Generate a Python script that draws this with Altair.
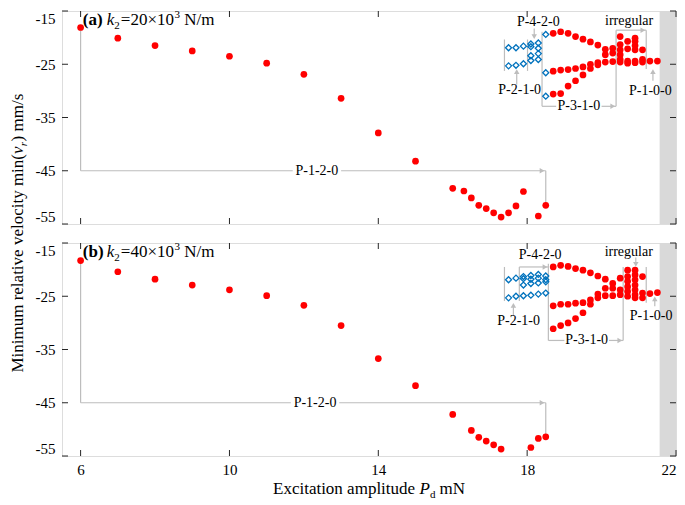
import altair as alt
import pandas as pd

# ---------------- data ----------------
x_ticks = [6, 10, 14, 18, 22]
y_ticks = [-15, -25, -35, -45, -55]
x_domain = [5.5, 22]
y_domain = [-55, -15]
band_range = [21.56, 22]

# panel (a) k2 = 20e3
a_p120_x = [6, 7, 8, 9, 10, 11, 12, 13, 14, 15, 16, 16.3, 16.5, 16.7, 16.9, 17.1, 17.3, 17.5, 17.7, 17.9, 18.3, 18.5]
a_p120_v = [-18.1, -20.1, -21.5, -22.5, -23.5, -24.8, -26.9, -31.4, -37.9, -43.2, -48.3, -48.8, -50.1, -51.5,
            -52.1, -52.9, -53.7, -52.9, -51.6, -48.9, -53.5, -51.5]
a_bif_x = [18.7] * 3 + [18.9] * 3 + [19.1] * 3 + [19.3] * 3 + [19.5] * 3 + [19.7] * 3 + [19.9] * 3 + [20.1] * 3 + \
          [20.3] * 3 + [20.5] * 6 + [20.7] * 4 + [20.9] * 6 + [21.1] * 3 + [21.3] + [21.5]
a_bif_v = [-19.2, -26.3, -30.6, -18.9, -26.1, -30.5, -19.2, -26.0, -29.1, -19.8, -25.8, -28.1, -20.3, -25.5, -27.0,
           -20.8, -25.0, -25.8, -21.4, -24.7, -25.1, -22.2, -23.2, -24.6, -22.0, -22.9, -24.5,
           -19.8, -21.3, -22.3, -23.2, -24.1, -24.6, -20.7, -22.1, -24.4, -24.8,
           -20.1, -20.7, -21.5, -22.3, -24.4, -24.7, -22.3, -24.1, -24.6, -24.4, -24.4]
a_blue_x = [17.5, 17.5, 17.7, 17.7, 17.9, 17.9, 18.1, 18.1, 18.1, 18.1, 18.3, 18.3, 18.3, 18.3, 18.5, 18.5, 18.5]
a_blue_v = [-21.9, -25.3, -21.9, -25.2, -21.6, -24.9, -21.2, -21.7, -23.4, -24.3, -21.0, -22.0, -23.0, -24.1,
            -19.4, -26.6, -31.0]

# panel (b) k2 = 40e3
b_p120_x = [6, 7, 8, 9, 10, 11, 12, 13, 14, 15, 16, 16.5, 16.7, 16.9, 17.1, 17.3, 18.1, 18.3, 18.5]
b_p120_v = [-18.3, -20.4, -21.8, -22.9, -23.8, -24.9, -26.7, -30.5, -36.7, -41.8, -47.2, -50.2, -51.5, -52.2,
            -52.9, -53.7, -53.4, -51.7, -51.4]
b_bif_x = [18.7] * 3 + [18.9] * 3 + [19.1] * 3 + [19.3] * 3 + [19.5] * 3 + [19.7] * 3 + [19.9] * 3 + [20.1] * 3 + \
          [20.3] * 3 + [20.5] * 3 + [20.7] * 6 + [20.9] * 7 + [21.1] * 3 + [21.3] + [21.5]
b_bif_v = [-19.5, -26.8, -31.1, -19.2, -26.5, -30.5, -19.4, -26.5, -30.0, -19.8, -26.3, -29.2, -20.1, -26.2, -28.1,
           -20.6, -25.7, -26.5, -21.2, -25.3, -24.6, -21.8, -23.5, -24.9, -22.6, -23.5, -24.9, -21.6, -23.8, -24.7,
           -20.1, -21.3, -22.2, -23.2, -24.1, -25.0,
           -20.1, -21.0, -21.9, -22.9, -23.8, -24.7, -25.3, -21.3, -24.4, -25.3, -24.5, -24.3]
b_blue_x = [17.5, 17.5, 17.7, 17.7] + [17.9] * 4 + [18.1] * 4 + [18.3] * 4 + [18.5] * 4
b_blue_v = [-21.9, -25.3, -21.6, -25.0, -21.3, -21.7, -22.9, -24.9, -21.1, -21.8, -22.6, -24.8,
            -20.9, -21.6, -22.5, -24.6, -21.2, -21.9, -22.3, -24.4]

# annotation guide lines (data units): x1, v1, x2, v2
a_segs = [(6, -18.6, 6, -45), (6, -45, 11.7, -45), (13.0, -45, 18.5, -45), (18.5, -45, 18.5, -51.5),
          (17.39, -20.35, 17.39, -26.25), (18.01, -20.35, 18.01, -26.25), (18.4, -18.9, 18.4, -32.9),
          (18.4, -32.9, 18.78, -32.9), (20.0, -32.9, 20.39, -32.9), (20.39, -18.6, 20.39, -32.9),
          (20.39, -18.6, 21.2, -18.6), (21.2, -18.6, 21.2, -25.9),
          (18.19, -18.3, 18.19, -19.9), (17.72, -28.8, 17.72, -26.3), (21.38, -28.1, 21.38, -26.3)]
a_arrows = [(18.4, -45, "triangle-right"), (20.3, -32.9, "triangle-right"), (21.11, -18.6, "triangle-right"),
            (18.19, -19.8, "triangle-down"), (17.72, -26.4, "triangle-up"), (21.38, -26.4, "triangle-up")]
a_labels = [("P-1-2-0", 12.35, -45), ("P-4-2-0", 18.3, -17.0), ("P-2-1-0", 17.8, -29.9),
            ("P-3-1-0", 19.39, -32.9), ("irregular", 20.74, -16.9), ("P-1-0-0", 21.31, -30.1)]

b_segs = [(6, -18.8, 6, -45), (6, -45, 11.65, -45), (12.95, -45, 18.5, -45), (18.5, -45, 18.5, -51.4),
          (17.39, -19.5, 17.39, -25.9), (17.79, -19.5, 17.79, -25.9), (17.79, -19.5, 18.57, -19.5),
          (18.57, -18.9, 18.57, -33.3), (18.57, -33.3, 19.0, -33.3), (20.2, -33.3, 20.58, -33.3),
          (20.58, -19.5, 20.58, -33.3), (21.2, -19.5, 21.2, -26.2),
          (20.92, -17.7, 20.92, -19.1), (17.63, -28.7, 17.63, -26.6), (21.43, -26.9, 21.43, -25.4)]
b_arrows = [(18.4, -45, "triangle-right"), (18.48, -19.5, "triangle-right"), (20.49, -33.3, "triangle-right"),
            (20.92, -19.0, "triangle-down"), (17.63, -26.7, "triangle-up"), (21.43, -25.5, "triangle-up")]
b_labels = [("P-1-2-0", 12.3, -45), ("P-4-2-0", 18.35, -17.3), ("P-2-1-0", 17.77, -29.7),
            ("P-3-1-0", 19.6, -33.3), ("irregular", 20.73, -16.7), ("P-1-0-0", 21.33, -28.8)]

panel_tag_pos = (6.06, -17.7)

# ---------------- styling ----------------
W, H = 614, 213
GAP = 19
FONT = "Liberation Serif"
GREY = "#BDBDBD"
FRAME = "#262626"

xs = alt.Scale(domain=x_domain, nice=False, zero=False)
ys = alt.Scale(domain=y_domain, nice=False, zero=False)
yaxis = alt.Axis(values=y_ticks, ticks=False, domain=False, grid=False, title=None, labelFlush=True,
                 labelPadding=7, labelFontSize=15, labelFont=FONT, labelColor="black",
                 labelExpr="datum.value < 0 ? '-' + abs(datum.value) : '' + datum.value")


def xaxis(show):
    if show:
        return alt.Axis(values=x_ticks, ticks=False, domain=False, grid=False, title=None, labelFlush=True,
                        labelPadding=6, labelFontSize=15, labelFont=FONT, labelColor="black")
    return alt.Axis(labels=False, ticks=False, domain=False, grid=False, title=None)


def one():
    return pd.DataFrame({"a": [0]})


def make_panel(tag, kval, p120_x, p120_v, bif_x, bif_v, blue_x, blue_v, segs, arrows, labels, bottom):
    XA = xaxis(bottom)

    def X(f):
        return alt.X(f, type="quantitative", scale=xs, axis=XA)

    def Y(f):
        return alt.Y(f, type="quantitative", scale=ys, axis=yaxis)

    band_df = pd.DataFrame({"x": [band_range[0]], "x2": [band_range[1]],
                            "y": [y_domain[1]], "y2": [y_domain[0]]})
    band = alt.Chart(band_df).mark_rect(color="#D9D9D9").encode(x=X("x"), x2="x2", y=Y("y"), y2="y2")

    seg_df = pd.DataFrame(segs, columns=["x1", "v1", "x2", "v2"])
    seg = alt.Chart(seg_df).mark_rule(color=GREY, strokeWidth=1.2).encode(
        x=X("x1"), x2="x2", y=Y("v1"), y2="v2")

    arr_df = pd.DataFrame(arrows, columns=["x", "v", "s"])
    arr = alt.Chart(arr_df).mark_point(filled=True, color=GREY, opacity=1, size=30).encode(
        x=X("x"), y=Y("v"), shape=alt.Shape("s:N", scale=None, legend=None))

    blue_df = pd.DataFrame({"x": blue_x, "v": blue_v})
    blue = alt.Chart(blue_df).mark_point(shape="diamond", filled=False, color="#0072BD", strokeWidth=1.3,
                                         size=36, opacity=1).encode(x=X("x"), y=Y("v"))

    red_df = pd.DataFrame({"x": list(p120_x) + list(bif_x), "v": list(p120_v) + list(bif_v)})
    red = alt.Chart(red_df).mark_circle(color="#FF0000", size=45, opacity=1).encode(x=X("x"), y=Y("v"))

    lab_df = pd.DataFrame(labels, columns=["t", "x", "v"])
    lab = alt.Chart(lab_df).mark_text(font=FONT, fontSize=14, color="black", align="center",
                                      baseline="middle").encode(x=X("x"), y=Y("v"), text="t:N")

    yt = pd.DataFrame({"v": y_ticks})
    xt = pd.DataFrame({"x": x_ticks})
    tick_l = alt.Chart(yt).mark_rule(color=FRAME).encode(y=Y("v"), x=alt.value(0), x2=alt.value(6))
    tick_r = alt.Chart(yt).mark_rule(color=FRAME).encode(y=Y("v"), x=alt.value(W - 6), x2=alt.value(W))
    tick_b = alt.Chart(xt).mark_rule(color=FRAME).encode(x=X("x"), y=alt.value(H - 6), y2=alt.value(H))
    tick_t = alt.Chart(xt).mark_rule(color=FRAME).encode(x=X("x"), y=alt.value(0), y2=alt.value(6))

    tag_df = pd.DataFrame({"x": [panel_tag_pos[0]], "v": [panel_tag_pos[1]]})
    pieces = [(f"({tag})", 17, "bold", "normal", 0, 0),
              ("k", 17, "normal", "italic", 24, 0),
              ("2", 11, "normal", "normal", 31.5, 4),
              (f"={kval}×10", 17, "normal", "normal", 38, 0),
              ("3", 11, "normal", "normal", 91.7, -7),
              ("N/m", 17, "normal", "normal", 101.5, 0)]
    tag_layers = [alt.Chart(tag_df).mark_text(text=t, font=FONT, fontSize=fs, fontWeight=fw, fontStyle=st,
                                              align="left", baseline="alphabetic", dx=dx, dy=dy,
                                              color="black").encode(x=X("x"), y=Y("v"))
                  for (t, fs, fw, st, dx, dy) in pieces]

    layers = [band, seg, arr, blue, red, lab, tick_l, tick_r, tick_b, tick_t] + tag_layers

    if not bottom:
        # shared y-axis title, drawn as rotated text centred between the panels
        ypieces = [("Minimum relative velocity min(", 17, "normal", -139.1, 0),
                   ("v", 17, "italic", 79.5, 0),
                   ("r", 11, "italic", 87.3, 4),
                   (") mm/s", 17, "normal", 92.1, 0)]
        for (t, fs, st, dx, dy) in ypieces:
            layers.append(alt.Chart(one()).mark_text(
                text=t, font=FONT, fontSize=fs, fontStyle=st, angle=270, align="left", baseline="alphabetic",
                dx=dx, dy=dy, color="black").encode(x=alt.value(-39), y=alt.value(H + GAP / 2)))
    else:
        xpieces = [("Excitation amplitude", 17, "normal", -96, 0),
                   ("P", 17, "italic", 50.4, 0),
                   ("d", 11, "normal", 61.0, 4),
                   ("mN", 17, "normal", 70.5, 0)]
        for (t, fs, st, dx, dy) in xpieces:
            layers.append(alt.Chart(one()).mark_text(
                text=t, font=FONT, fontSize=fs, fontStyle=st, align="left", baseline="alphabetic",
                dx=dx, dy=dy, color="black").encode(x=alt.value(W / 2), y=alt.value(H + 38)))

    return alt.layer(*layers).properties(width=W, height=H)


pa = make_panel("a", 20, a_p120_x, a_p120_v, a_bif_x, a_bif_v, a_blue_x, a_blue_v,
                a_segs, a_arrows, a_labels, bottom=False)
pb = make_panel("b", 40, b_p120_x, b_p120_v, b_bif_x, b_bif_v, b_blue_x, b_blue_v,
                b_segs, b_arrows, b_labels, bottom=True)

chart = alt.vconcat(pa, pb, spacing=GAP, bounds="flush").properties(padding=0).configure_view(
    stroke=FRAME, strokeWidth=1).configure(background="white")

chart.save("out.html", embed_options={"renderer": "svg", "actions": False})
